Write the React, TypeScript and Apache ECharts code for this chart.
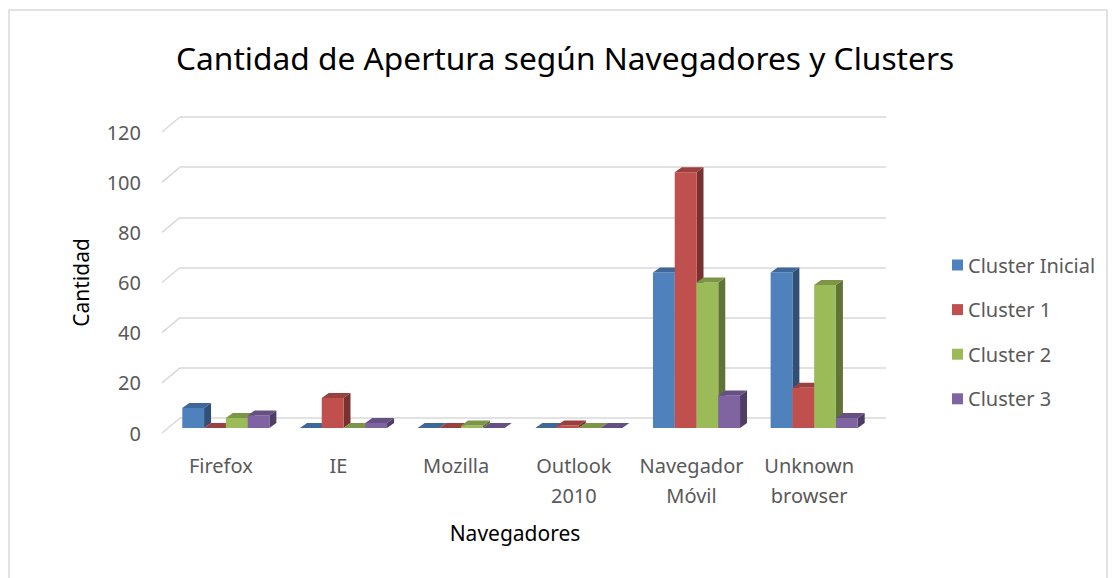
import React, { useEffect, useRef } from "react";
import * as echarts from "echarts";

const categories = ["Firefox", "IE", "Mozilla", "Outlook\n2010", "Navegador\nMóvil", "Unknown\nbrowser"];
const seriesNames = ["Cluster Inicial", "Cluster 1", "Cluster 2", "Cluster 3"];
const clusterInicial = [8, 0, 0, 0, 62, 62];
const cluster1 = [0, 12, 0, 1, 102, 16];
const cluster2 = [4, 0, 1, 0, 58, 57];
const cluster3 = [5, 2, 0, 0, 13, 4];
const seriesValues = [clusterInicial, cluster1, cluster2, cluster3];
const colors = ["#4F81BD", "#C0504D", "#9BBB59", "#8064A2"];
const tickValues = [0, 20, 40, 60, 80, 100, 120];

const FONT = "'Noto Sans', sans-serif";

function shade(hex: string, f: number) {
  const n = parseInt(hex.slice(1), 16);
  const r = Math.round(((n >> 16) & 255) * f);
  const g = Math.round(((n >> 8) & 255) * f);
  const b = Math.round((n & 255) * f);
  return `rgb(${r},${g},${b})`;
}

export default function App() {
  const ref = useRef<HTMLDivElement>(null);
  useEffect(() => {
    const chart = echarts.init(ref.current!, null, { renderer: "svg" });
    const depthX = 7;
    const depthY = 5;
    const shiftX = 5;
    const shiftY = 5;

    const barSeries = seriesNames.map((name, si) => ({
      name,
      type: "custom",
      xAxisIndex: 1,
      yAxisIndex: 1,
      itemStyle: { color: colors[si] },
      encode: { x: 0, y: 1 },
      data: seriesValues[si].map((v, i) => [i, v]),
      renderItem: (params: any, api: any) => {
        const ci = api.value(0);
        const v = api.value(1);
        const top = api.coord([ci, v]);
        const base = api.coord([ci, 0]);
        const bw = api.size([1, 0])[0];
        const w = bw * 0.185;
        const x0 = top[0] - 2 * w + si * w + shiftX;
        const x1 = x0 + w;
        const yt = top[1] - shiftY;
        const yb = base[1] - shiftY;
        const c = colors[si];
        return {
          type: "group",
          children: [
            {
              type: "polygon",
              shape: { points: [[x1, yb], [x1 + depthX, yb - depthY], [x1 + depthX, yt - depthY], [x1, yt]] },
              style: { fill: shade(c, 0.62) },
            },
            {
              type: "rect",
              shape: { x: x0, y: yt, width: w, height: Math.max(yb - yt, 0) },
              style: { fill: c },
            },
            {
              type: "polygon",
              shape: { points: [[x0, yt], [x0 + depthX, yt - depthY], [x1 + depthX, yt - depthY], [x1, yt]] },
              style: { fill: shade(c, 0.8) },
            },
          ],
        };
      },
    }));

    const option: any = {
      animation: false,
      title: {
        text: "Cantidad de Apertura según Navegadores y Clusters",
        left: 171,
        top: 36,
        textStyle: { fontFamily: FONT, fontSize: 31.7, fontWeight: "normal", color: "#000" },
      },
      legend: {
        orient: "vertical",
        left: 947,
        top: 250,
        itemWidth: 11,
        itemHeight: 11,
        itemGap: 24.6,
        icon: "rect",
        data: seriesNames,
        textStyle: { fontFamily: FONT, fontSize: 20, color: "#595959" },
      },
      graphic: [
        {
          type: "rect",
          shape: { x: 9, y: 10, width: 1098, height: 575 },
          style: { fill: "none", stroke: "#d9d9d9", lineWidth: 1.5 },
          silent: true,
        },
      ],
      grid: [
        { left: 180, top: 117, width: 706, height: 301 },
        { left: 162, top: 132, width: 706, height: 301 },
      ],
      xAxis: [
        { gridIndex: 0, type: "category", data: categories, show: false },
        {
          gridIndex: 1,
          type: "category",
          data: categories,
          axisLine: { show: false },
          axisTick: { show: false },
          axisLabel: {
            fontFamily: FONT,
            fontSize: 20,
            color: "#595959",
            margin: 17,
            lineHeight: 30,
            interval: 0,
          },
          name: "Navegadores",
          nameLocation: "middle",
          nameGap: 89,
          nameTextStyle: { fontFamily: FONT, fontSize: 21, color: "#000" },
        },
      ],
      yAxis: [
        {
          gridIndex: 0,
          type: "value",
          min: 0,
          max: 120,
          interval: 20,
          axisLabel: { show: false },
          axisLine: { show: false },
          axisTick: { show: false },
          splitLine: { show: true, lineStyle: { color: "#d9d9d9", width: 1.5 } },
        },
        {
          gridIndex: 1,
          type: "value",
          min: 0,
          max: 120,
          interval: 20,
          axisLine: { show: false },
          axisTick: { show: false },
          splitLine: { show: false },
          axisLabel: { fontFamily: FONT, fontSize: 20, color: "#595959", margin: 21 },
          name: "Cantidad",
          nameLocation: "middle",
          nameGap: 71,
          nameRotate: 90,
          nameTextStyle: { fontFamily: FONT, fontSize: 21, color: "#000" },
        },
      ],
      series: [
        {
          type: "custom",
          name: "ticks",
          xAxisIndex: 1,
          yAxisIndex: 1,
          silent: true,
          encode: { x: 0, y: 1 },
          data: tickValues.map((v) => [0, v]),
          renderItem: (params: any, api: any) => {
            const p = api.coord([0, api.value(1)]);
            const bw = api.size([1, 0])[0];
            const x = p[0] - bw / 2;
            return {
              type: "line",
              shape: { x1: x, y1: p[1], x2: x + 18, y2: p[1] - 15 },
              style: { stroke: "#d9d9d9", lineWidth: 1.5 },
            };
          },
        },
        ...barSeries,
      ],
    };
    chart.setOption(option);
    return () => chart.dispose();
  }, []);
  return <div ref={ref} style={{ position: "fixed", left: 0, top: 0, width: 1115, height: 578, background: "#fff" }} />;
}
